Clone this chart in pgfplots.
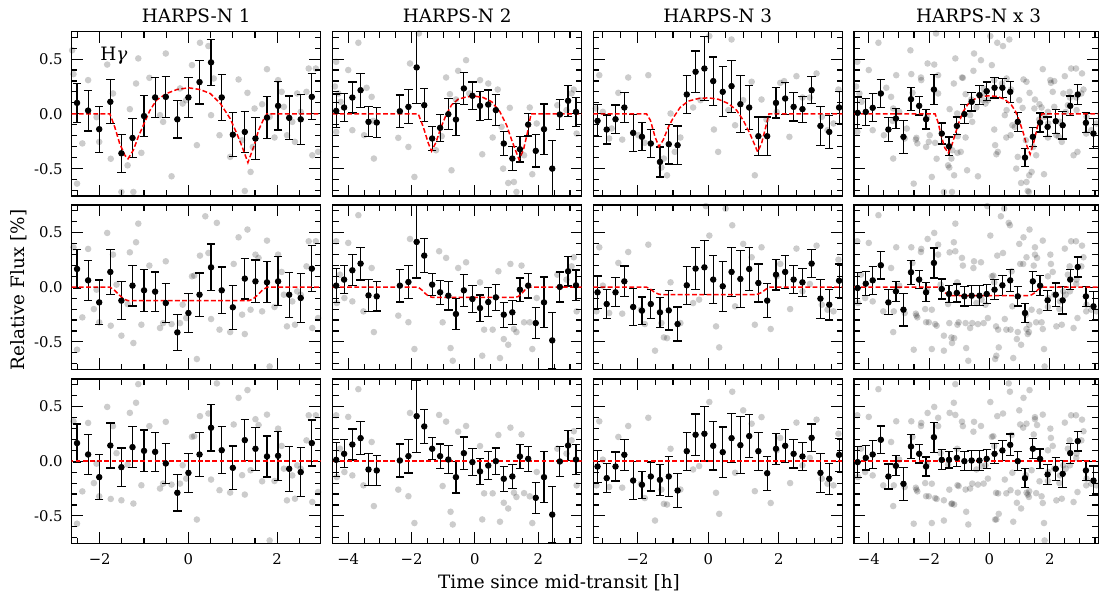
\documentclass[border=0pt]{standalone}
\usepackage{fontspec}
\setmainfont{DejaVu Serif}
\usepackage{pgfplots}
\usepackage{pgfplotstable}
\pgfplotsset{compat=1.18}

% ---------- binned points: t, row1 y/err, row2 y/err, row3 y (err as row2)
\pgfplotstableread{
t y1 e1 y2 e2 y3
-2.51 0.10 0.18 0.166 0.175 0.165
-2.26 0.03 0.186 0.062 0.185 0.061
-2.01 -0.14 0.21 -0.139 0.205 -0.146
-1.76 0.11 0.20 0.139 0.205 0.143
-1.51 -0.36 0.175 -0.123 0.175 -0.055
-1.26 -0.22 0.18 0.014 0.186 0.128
-1.00 -0.02 0.19 -0.029 0.19 0.094
-0.75 0.15 0.18 -0.041 0.18 0.085
-0.51 0.155 0.185 -0.145 0.18 -0.021
-0.25 -0.05 0.17 -0.413 0.166 -0.289
0.00 0.15 0.18 -0.236 0.18 -0.107
0.25 0.29 0.20 -0.069 0.198 0.061
0.51 0.47 0.21 0.181 0.213 0.305
0.75 0.15 0.21 -0.029 0.213 0.10
1.00 -0.19 0.20 -0.184 0.20 -0.061
1.27 -0.165 0.19 0.078 0.187 0.192
1.51 -0.225 0.195 0.053 0.195 0.113
1.77 -0.035 0.19 0.044 0.187 0.043
2.02 0.073 0.22 0.053 0.224 0.049
2.27 -0.037 0.20 -0.069 0.206 -0.07
2.53 -0.05 0.23 -0.099 0.225 -0.10
2.78 0.155 0.21 0.169 0.21 0.165
}\bina
\pgfplotstableread{
t y1 e1 y2 e2 y3
-4.38 0.027 0.155 0.014 0.155 0.012
-4.13 0.058 0.126 0.069 0.128 0.067
-3.87 0.149 0.142 0.154 0.142 0.152
-3.61 0.216 0.155 0.215 0.15 0.21
-3.36 -0.073 0.137 -0.075 0.145 -0.076
-3.10 -0.079 0.137 -0.084 0.134 -0.085
-2.37 0.024 0.149 0.014 0.15 0.006
-2.10 0.064 0.155 0.047 0.154 0.046
-1.84 0.424 0.33 0.413 0.33 0.411
-1.60 0.079 0.152 0.288 0.155 0.317
-1.35 -0.225 0.107 0.023 0.10 0.113
-1.10 -0.128 0.122 -0.047 0.111 0.046
-0.84 -0.003 0.14 -0.078 0.13 0.015
-0.60 -0.052 0.145 -0.245 0.145 -0.146
-0.35 0.232 0.146 -0.029 0.148 0.073
-0.08 0.165 0.125 -0.108 0.122 -0.009
0.16 0.073 0.133 -0.191 0.119 -0.094
0.42 0.085 0.133 -0.136 0.13 -0.04
0.66 0.034 0.142 -0.093 0.12 0.0
0.91 -0.271 0.111 -0.251 0.114 -0.161
1.18 -0.408 0.111 -0.23 0.11 -0.14
1.42 -0.323 0.117 -0.023 0.107 0.043
1.68 -0.098 0.104 0.014 0.113 0.021
1.92 -0.338 0.148 -0.328 0.14 -0.335
2.18 -0.14 0.23 -0.139 0.232 -0.146
2.44 -0.50 0.26 -0.486 0.256 -0.488
2.68 -0.006 0.137 0.002 0.137 -0.003
2.94 0.119 0.142 0.145 0.134 0.143
3.19 0.018 0.134 0.017 0.139 0.015
}\binb
\pgfplotstableread{
t y1 e1 y2 e2 y3
-3.14 -0.064 0.146 -0.047 0.148 -0.049
-2.88 -0.143 0.133 -0.154 0.133 -0.155
-2.63 -0.049 0.13 -0.047 0.133 -0.049
-2.38 0.058 0.137 0.053 0.14 0.058
-2.13 -0.174 0.168 -0.181 0.171 -0.177
-1.88 -0.21 0.128 -0.215 0.125 -0.216
-1.63 -0.271 0.13 -0.154 0.133 -0.14
-1.37 -0.439 0.137 -0.23 0.139 -0.171
-1.12 -0.277 0.18 -0.212 0.18 -0.14
-0.87 -0.286 0.175 -0.337 0.155 -0.268
-0.61 0.177 0.172 0.017 0.174 0.091
-0.36 0.384 0.19 0.169 0.19 0.241
-0.11 0.414 0.294 0.181 0.248 0.25
0.14 0.299 0.22 0.069 0.22 0.14
0.41 0.201 0.228 0.008 0.229 0.082
0.66 0.253 0.237 0.139 0.225 0.21
0.91 0.088 0.26 0.075 0.259 0.146
1.16 0.058 0.198 0.166 0.195 0.229
1.42 -0.204 0.175 0.038 0.174 0.091
1.67 -0.204 0.175 -0.123 0.155 -0.11
1.92 0.10 0.137 0.114 0.14 0.113
2.18 0.14 0.146 0.139 0.149 0.14
2.42 0.064 0.13 0.069 0.13 0.067
2.67 0.043 0.119 0.044 0.128 0.043
2.93 0.216 0.122 0.215 0.126 0.213
3.18 -0.11 0.178 -0.105 0.178 -0.107
3.43 -0.165 0.148 -0.16 0.14 -0.161
3.71 0.058 0.148 0.059 0.152 0.058
}\binc
\pgfplotstableread{
t y1 e1 y2 e2 y3
-4.37 0.009 0.145 -0.008 0.14 -0.009
-4.10 0.018 0.125 0.032 0.111 0.03
-3.87 0.055 0.128 0.062 0.13 0.061
-3.60 0.186 0.131 0.2 0.126 0.195
-3.35 -0.143 0.111 -0.139 0.114 -0.14
-3.10 -0.043 0.094 -0.038 0.091 -0.043
-2.85 -0.21 0.152 -0.206 0.149 -0.207
-2.60 0.134 0.107 0.136 0.11 0.134
-2.33 0.073 0.084 0.069 0.084 0.067
-2.10 -0.049 0.09 -0.047 0.087 -0.049
-1.84 0.222 0.137 0.221 0.137 0.219
-1.58 -0.18 0.096 -0.017 0.091 0.012
-1.34 -0.296 0.084 -0.062 0.075 0.012
-1.08 -0.11 0.081 -0.053 0.082 0.03
-0.83 -0.003 0.088 -0.084 0.088 0.0
-0.59 0.11 0.084 -0.078 0.09 0.006
-0.33 0.171 0.085 -0.078 0.09 0.006
-0.09 0.207 0.084 -0.062 0.087 0.021
0.17 0.238 0.093 -0.023 0.091 0.067
0.43 0.238 0.087 0.017 0.091 0.098
0.69 0.201 0.096 0.062 0.099 0.149
0.94 -0.073 0.088 -0.084 0.088 0.0
1.18 -0.399 0.085 -0.236 0.087 -0.155
1.44 -0.21 0.088 0.053 0.091 0.113
1.68 -0.079 0.087 0.014 0.09 0.021
1.93 -0.119 0.091 -0.12 0.093 -0.122
2.20 -0.067 0.11 -0.069 0.107 -0.07
2.43 -0.104 0.125 -0.12 0.125 -0.116
2.68 0.073 0.09 0.069 0.091 0.073
2.93 0.177 0.091 0.184 0.091 0.183
3.20 -0.082 0.091 -0.084 0.091 -0.085
3.45 -0.18 0.137 -0.175 0.133 -0.177
}\bind

% ---------- models
\pgfplotstableread{
t y
-2.63 0
-1.77 0
-1.66 -0.12
-1.55 -0.27
-1.43 -0.38
-1.36 -0.41
-1.24 -0.33
-1.13 -0.21
-1.00 -0.09
-0.87 0.03
-0.72 0.125
-0.49 0.186
-0.26 0.222
0 0.238
0.26 0.222
0.49 0.186
0.72 0.094
0.94 -0.043
1.09 -0.18
1.21 -0.30
1.34 -0.445
1.47 -0.30
1.58 -0.15
1.70 -0.043
1.77 0
2.98 0
}\moda
\pgfplotstableread{
t y
-4.49 0
-1.79 0
-1.63 -0.12
-1.47 -0.27
-1.37 -0.34
-1.23 -0.26
-1.08 -0.13
-0.91 -0.01
-0.74 0.08
-0.53 0.134
-0.26 0.155
0 0.161
0.26 0.149
0.53 0.11
0.79 0.018
1.0 -0.104
1.16 -0.24
1.32 -0.363
1.39 -0.417
1.53 -0.33
1.65 -0.18
1.77 0
3.37 0
}\modb
\pgfplotstableread{
t y
-3.26 0
-1.75 0
-1.64 -0.06
-1.51 -0.21
-1.40 -0.30
-1.28 -0.24
-1.13 -0.12
-0.99 -0.034
-0.80 0.058
-0.57 0.116
-0.28 0.14
0 0.146
0.28 0.134
0.57 0.094
0.80 0.034
0.99 -0.058
1.18 -0.18
1.40 -0.347
1.51 -0.271
1.63 -0.119
1.72 0
3.80 0
}\modc
\pgfplotstableread{
t y
-4.49 0
-1.80 0
-1.70 -0.08
-1.60 -0.20
-1.48 -0.31
-1.36 -0.356
-1.24 -0.28
-1.13 -0.18
-1.00 -0.07
-0.87 0.02
-0.72 0.085
-0.49 0.135
-0.26 0.158
0 0.165
0.26 0.158
0.49 0.135
0.72 0.085
0.87 0.02
1.00 -0.07
1.13 -0.18
1.24 -0.29
1.35 -0.369
1.47 -0.26
1.60 -0.11
1.74 0
3.61 0
}\modd
\pgfplotstableread{
t y
-2.63 0
-1.77 0
-1.66 -0.03
-1.55 -0.075
-1.45 -0.11
-1.36 -0.123
1.36 -0.123
1.45 -0.11
1.55 -0.075
1.66 -0.03
1.77 0
2.98 0
}\modaa
\pgfplotstableread{
t y
-4.49 0
-1.79 0
-1.68 -0.025
-1.56 -0.06
-1.45 -0.085
-1.33 -0.094
1.26 -0.094
1.37 -0.085
1.47 -0.06
1.58 -0.025
1.68 0
3.37 0
}\modbb
\pgfplotstableread{
t y
-3.26 0
-1.75 0
-1.64 -0.018
-1.53 -0.045
-1.42 -0.062
-1.32 -0.069
1.32 -0.069
1.42 -0.062
1.53 -0.045
1.64 -0.018
1.75 0
3.80 0
}\modcc
\pgfplotstableread{
t y
-4.49 0
-1.64 0
-1.55 -0.02
-1.47 -0.05
-1.38 -0.07
-1.30 -0.078
1.29 -0.078
1.40 -0.07
1.51 -0.05
1.62 -0.02
1.74 0
3.61 0
}\moddd
\pgfplotstableread{
t y
-4.49 0
3.80 0
}\zero

% ---------- individual spectra (grey)
\pgfplotstableread{
t y
-2.62 0.58
-2.59 0.363
-2.51 -0.637
-2.39 -0.27
-2.26 0.308
-2.07 -0.03
-2.01 -0.256
-1.83 0.45
-1.75 -0.41
-1.70 0.186
-1.51 -0.713
-1.37 -0.47
-1.32 0.043
-1.24 -0.713
-1.18 0.277
-1.13 0.506
-1.06 -0.356
-0.88 0.329
-0.64 -0.012
-0.57 -0.073
-0.51 0.551
-0.38 -0.57
-0.19 0.232
-0.13 0.094
-0.05 0.125
0.08 0.445
0.19 -0.286
0.26 0.649
0.45 0.619
0.51 -0.012
0.57 0.323
0.70 -0.195
0.94 -0.393
1.13 0.314
1.21 -0.241
1.27 -0.704
1.33 0.192
1.40 -0.53
1.45 -0.302
1.49 0.049
1.66 0.088
1.77 0.408
1.83 -0.027
1.94 -0.216
2.02 0.308
2.10 0.201
2.15 0.064
2.22 -0.195
2.34 -0.073
2.40 -0.256
2.45 0.186
2.53 0.018
2.66 0.201
2.71 0.414
2.79 -0.378
2.87 0.414
2.92 -0.347
}\gaa
\pgfplotstableread{
t y
-2.59 0.364
-2.51 -0.571
-2.39 -0.276
-2.26 0.349
-2.13 -0.20
-2.07 -0.023
-2.01 -0.321
-1.83 0.495
-1.75 -0.352
-1.70 0.297
-1.62 0.023
-1.51 -0.443
-1.37 -0.154
-1.32 0.318
-1.24 -0.51
-1.18 0.41
-1.13 0.58
-1.06 -0.343
-0.88 0.197
-0.64 -0.373
-0.57 -0.328
-0.51 0.236
-0.38 -0.337
-0.19 -0.328
-0.13 -0.16
-0.05 -0.282
0.08 0.099
0.13 0.105
0.19 -0.656
0.26 0.288
0.38 0.647
0.45 0.312
0.51 -0.291
0.64 0.587
0.70 -0.388
0.94 -0.41
1.02 0.212
1.13 0.455
1.21 -0.251
1.27 -0.428
1.33 0.526
1.40 -0.206
1.51 0.297
1.58 0.267
1.66 -0.221
1.77 0.425
1.83 -0.724
1.94 -0.181
2.02 0.297
2.10 0.139
2.15 -0.069
2.22 -0.358
2.34 -0.13
2.40 -0.343
2.45 -0.038
2.53 -0.069
2.66 0.19
2.71 0.419
2.79 -0.373
2.87 0.419
2.92 -0.282
}\gab
\pgfplotstableread{
t y
-2.59 0.364
-2.51 -0.571
-2.39 -0.276
-2.26 0.349
-2.13 -0.20
-2.07 -0.023
-2.01 -0.321
-1.83 0.495
-1.75 -0.345
-1.70 0.32
-1.62 0.073
-1.51 -0.357
-1.37 -0.031
-1.32 0.441
-1.24 -0.387
-1.18 0.533
-1.13 0.703
-1.06 -0.22
-0.88 0.32
-0.64 -0.25
-0.57 -0.205
-0.51 0.359
-0.38 -0.214
-0.19 -0.205
-0.13 -0.037
-0.05 -0.159
0.08 0.222
0.13 0.228
0.19 -0.533
0.26 0.411
0.38 0.77
0.45 0.435
0.51 -0.168
0.64 0.71
0.70 -0.265
0.94 -0.287
1.02 0.335
1.13 0.578
1.21 -0.128
1.27 -0.305
1.33 0.649
1.40 -0.083
1.51 0.383
1.58 0.33
1.66 -0.184
1.77 0.425
1.83 -0.724
1.94 -0.181
2.02 0.297
2.10 0.139
2.15 -0.069
2.22 -0.358
2.34 -0.13
2.40 -0.343
2.45 -0.038
2.53 -0.069
2.66 0.19
2.71 0.419
2.79 -0.373
2.87 0.419
2.92 -0.282
}\gac
\pgfplotstableread{
t y
-4.42 0.25
-4.38 0.475
-4.31 0.186
-4.24 0.11
-4.38 -0.165
-4.00 0.40
-3.87 -0.149
-3.68 0.649
-3.50 -0.195
-3.42 0.238
-3.26 0.155
-3.21 -0.064
-3.19 -0.408
-2.42 -0.219
-2.10 -0.302
-2.05 0.46
-1.91 -0.576
-1.77 0.734
-1.23 -0.332
-1.05 -0.204
-0.91 0.332
-0.79 0.18
-0.74 -0.515
-0.60 0.131
-0.53 0.393
-0.28 0.49
-0.18 0.186
0.16 0.308
0.23 -0.369
0.42 0.277
0.56 -0.216
0.72 0.222
0.84 -0.119
0.89 -0.50
1.05 -0.631
1.10 0.055
1.23 -0.622
1.31 -0.713
1.55 -0.378
1.73 0.058
1.81 -0.551
1.95 -0.088
2.60 0.079
2.89 0.034
3.05 0.186
3.12 0.222
3.21 -0.18
}\gba
\pgfplotstableread{
t y
-4.38 0.419
-4.36 -0.145
-4.26 0.114
-4.12 -0.099
-4.00 0.404
-3.87 -0.13
-3.68 0.657
-3.52 -0.221
-3.26 0.175
-3.19 -0.41
-2.42 -0.26
-2.10 -0.32
-2.05 0.44
-1.91 -0.565
-1.13 0.328
-1.02 -0.321
-0.91 0.267
-0.77 -0.556
-0.70 -0.672
-0.53 0.175
-0.28 0.227
0.16 0.044
0.23 -0.626
0.29 -0.388
0.56 -0.388
0.74 0.145
0.79 -0.647
0.91 -0.474
1.05 -0.526
1.12 0.212
1.23 -0.382
1.31 -0.41
1.47 0.197
1.55 -0.321
1.73 -0.321
1.81 -0.565
1.95 -0.099
2.60 0.114
2.89 0.069
3.05 0.19
3.12 0.273
3.21 -0.221
}\gbb
\pgfplotstableread{
t y
-4.38 0.419
-4.36 -0.145
-4.26 0.114
-4.12 -0.099
-4.00 0.404
-3.87 -0.13
-3.68 0.657
-3.52 -0.221
-3.26 0.175
-3.19 -0.41
-2.42 -0.26
-2.10 -0.32
-2.05 0.44
-1.91 -0.565
-1.13 0.422
-1.02 -0.227
-0.91 0.361
-0.77 -0.462
-0.70 -0.578
-0.53 0.269
-0.28 0.321
0.16 0.138
0.23 -0.532
0.29 -0.294
0.56 -0.294
0.74 0.239
0.79 -0.553
0.91 -0.38
1.05 -0.432
1.12 0.306
1.23 -0.288
1.31 -0.327
1.47 0.244
1.55 -0.292
1.73 -0.321
1.81 -0.565
1.95 -0.099
2.60 0.114
2.89 0.069
3.05 0.19
3.12 0.273
3.21 -0.221
}\gbc
\pgfplotstableread{
t y
-3.19 0.049
-3.09 0.353
-2.99 0.018
-2.81 -0.225
-2.74 -0.134
-2.55 0.192
-2.44 -0.235
-2.27 0.332
-1.98 -0.195
-1.80 -0.265
-1.70 0.353
-1.33 -0.49
-1.26 -0.408
-1.17 -0.561
-1.07 0.003
-0.95 -0.347
-0.79 -0.216
-0.43 0.058
-0.22 0.125
0.03 0.71
0.16 -0.143
0.28 -0.347
0.57 0.034
0.66 0.679
0.76 -0.104
0.99 0.125
1.23 0.293
1.32 -0.561
1.51 0.131
1.65 -0.052
1.94 0.018
2.04 0.283
2.15 0.299
2.30 -0.21
2.50 0.344
2.67 0.149
2.88 0.149
3.07 0.369
3.22 -0.027
3.38 -0.149
3.55 -0.088
3.69 0.222
}\gca
\pgfplotstableread{
t y
-3.17 -0.221
-3.09 0.364
-2.99 0.014
-2.81 -0.236
-2.55 0.221
-2.44 -0.242
-2.27 0.321
-1.91 -0.206
-1.80 -0.337
-1.70 0.388
-1.51 -0.58
-1.33 -0.328
-1.26 -0.459
-1.17 -0.465
-1.07 0.044
-0.79 -0.328
-0.43 -0.145
-0.26 -0.114
-0.07 0.74
0.03 0.471
0.22 -0.358
0.31 -0.55
0.49 0.717
0.68 0.565
0.76 -0.175
0.99 0.395
1.23 0.273
1.32 -0.343
1.51 0.364
1.77 -0.382
1.94 0.099
2.04 0.212
2.32 -0.2
2.50 0.352
2.67 -0.038
2.88 0.029
3.07 0.379
3.22 -0.16
3.38 -0.206
3.55 -0.221
3.69 0.251
}\gcb
\pgfplotstableread{
t y
-3.17 -0.221
-3.09 0.364
-2.99 0.014
-2.81 -0.236
-2.55 0.221
-2.44 -0.242
-2.27 0.321
-1.91 -0.206
-1.80 -0.337
-1.70 0.396
-1.51 -0.542
-1.33 -0.26
-1.26 -0.39
-1.17 -0.396
-1.07 0.113
-0.79 -0.259
-0.43 -0.076
-0.26 -0.045
0.03 0.54
0.22 -0.289
0.31 -0.481
0.68 0.634
0.76 -0.106
0.99 0.464
1.23 0.342
1.32 -0.274
1.51 0.402
1.77 -0.382
1.94 0.099
2.04 0.212
2.32 -0.2
2.50 0.352
2.67 -0.038
2.88 0.029
3.07 0.379
3.22 -0.16
3.38 -0.206
3.55 -0.221
3.69 0.251
}\gcc

\pgfplotsset{
  panel/.style={
    scale only axis, height=82.15pt, anchor=north west,
    ymin=-0.75, ymax=0.75, ytick={-0.5,0,0.5},
    minor ytick={-0.7,-0.6,-0.4,-0.3,-0.2,-0.1,0.1,0.2,0.3,0.4,0.6,0.7},
    tick align=inside, tick pos=both,
    major tick length=5.6pt, minor tick length=2.9pt,
    every tick/.style={black, line width=0.55pt},
    axis line style={line width=0.6pt},
    tick label style={font=\fontsize{7.4}{8}\selectfont},
    xticklabel style={yshift=-1.5pt},
    yticklabel style={xshift=-1pt},
    yticklabels={}, xticklabels={}, clip=true,
  },
  cA/.style={width=124.5pt, xmin=-2.63, xmax=2.98, xtick={-2,0,2},
    minor xtick={-2.5,-1.5,-1,-0.5,0.5,1,1.5,2.5}},
  cB/.style={width=124.5pt, xmin=-4.49, xmax=3.37, xtick={-4,-2,0,2},
    minor xtick={-3.5,-3,-2.5,-1.5,-1,-0.5,0.5,1,1.5,2.5,3}},
  cC/.style={width=124.5pt, xmin=-3.26, xmax=3.80, xtick={-2,0,2},
    minor xtick={-3,-2.5,-1.5,-1,-0.5,0.5,1,1.5,2.5,3,3.5}},
  cD/.style={width=122.15pt, xmin=-4.49, xmax=3.61, xtick={-4,-2,0,2},
    minor xtick={-3.5,-3,-2.5,-1.5,-1,-0.5,0.5,1,1.5,2.5,3,3.5}},
  grey/.style={only marks, mark=*, mark size=1.65pt, color=black,
    mark options={draw opacity=0, fill=black, fill opacity=0.2}},
  binned/.style={only marks, mark=*, mark size=1.4pt, black,
    error bars/.cd, y dir=both, y explicit,
    error bar style={line width=0.6pt, black},
    error mark options={rotate=90, mark size=2.1pt, line width=0.6pt, black}},
  model/.style={draw=red, color=red, line width=0.75pt, dash pattern=on 2.4pt off 1.2pt, mark=none},
}

\begin{document}
\begin{tikzpicture}
\path[use as bounding box] (0,0) rectangle (549.5pt,-297.5pt);

% ================= row 1
\begin{axis}[panel, cA, at={(35.85pt,-15.85pt)}, yticklabels={-0.5,0.0,0.5}]
\addplot[grey] table[x=t,y=y] {\gaa};
\addplot[binned] table[x=t,y=y1,y error=e1] {\bina};
\addplot[model] table[x=t,y=y] {\moda};
\end{axis}
\begin{axis}[panel, cB, at={(166.35pt,-15.85pt)}]
\addplot[grey] table[x=t,y=y] {\gba};
\addplot[binned] table[x=t,y=y1,y error=e1] {\binb};
\addplot[model] table[x=t,y=y] {\modb};
\end{axis}
\begin{axis}[panel, cC, at={(296.65pt,-15.85pt)}]
\addplot[grey] table[x=t,y=y] {\gca};
\addplot[binned] table[x=t,y=y1,y error=e1] {\binc};
\addplot[model] table[x=t,y=y] {\modc};
\end{axis}
\begin{axis}[panel, cD, at={(427pt,-15.85pt)}]
\addplot[grey] table[x=t,y=y] {\gaa};
\addplot[grey] table[x=t,y=y] {\gba};
\addplot[grey] table[x=t,y=y] {\gca};
\addplot[binned] table[x=t,y=y1,y error=e1] {\bind};
\addplot[model] table[x=t,y=y] {\modd};
\end{axis}

% ================= row 2
\begin{axis}[panel, cA, at={(35.85pt,-102.5pt)}, yticklabels={-0.5,0.0,0.5}]
\addplot[grey] table[x=t,y=y] {\gab};
\addplot[binned] table[x=t,y=y2,y error=e2] {\bina};
\addplot[model] table[x=t,y=y] {\modaa};
\end{axis}
\begin{axis}[panel, cB, at={(166.35pt,-102.5pt)}]
\addplot[grey] table[x=t,y=y] {\gbb};
\addplot[binned] table[x=t,y=y2,y error=e2] {\binb};
\addplot[model] table[x=t,y=y] {\modbb};
\end{axis}
\begin{axis}[panel, cC, at={(296.65pt,-102.5pt)}]
\addplot[grey] table[x=t,y=y] {\gcb};
\addplot[binned] table[x=t,y=y2,y error=e2] {\binc};
\addplot[model] table[x=t,y=y] {\modcc};
\end{axis}
\begin{axis}[panel, cD, at={(427pt,-102.5pt)}]
\addplot[grey] table[x=t,y=y] {\gab};
\addplot[grey] table[x=t,y=y] {\gbb};
\addplot[grey] table[x=t,y=y] {\gcb};
\addplot[binned] table[x=t,y=y2,y error=e2] {\bind};
\addplot[model] table[x=t,y=y] {\moddd};
\end{axis}

% ================= row 3
\begin{axis}[panel, cA, at={(35.85pt,-189.5pt)}, yticklabels={-0.5,0.0,0.5}, xticklabels={−2,0,2}]
\addplot[grey] table[x=t,y=y] {\gac};
\addplot[binned] table[x=t,y=y3,y error=e2] {\bina};
\addplot[model] table[x=t,y=y] {\zero};
\end{axis}
\begin{axis}[panel, cB, at={(166.35pt,-189.5pt)}, xticklabels={−4,−2,0,2}]
\addplot[grey] table[x=t,y=y] {\gbc};
\addplot[binned] table[x=t,y=y3,y error=e2] {\binb};
\addplot[model] table[x=t,y=y] {\zero};
\end{axis}
\begin{axis}[panel, cC, at={(296.65pt,-189.5pt)}, xticklabels={−2,0,2}]
\addplot[grey] table[x=t,y=y] {\gcc};
\addplot[binned] table[x=t,y=y3,y error=e2] {\binc};
\addplot[model] table[x=t,y=y] {\zero};
\end{axis}
\begin{axis}[panel, cD, at={(427pt,-189.5pt)}, xticklabels={−4,−2,0,2}]
\addplot[grey] table[x=t,y=y] {\gac};
\addplot[grey] table[x=t,y=y] {\gbc};
\addplot[grey] table[x=t,y=y] {\gcc};
\addplot[binned] table[x=t,y=y3,y error=e2] {\bind};
\addplot[model] table[x=t,y=y] {\zero};
\end{axis}

% ================= titles and labels
\begin{scope}[every node/.style={font=\fontsize{9.2}{11}\selectfont, inner sep=0pt}]
\node[anchor=base] at (98.1pt,-11.35pt) {HARPS-N 1};
\node[anchor=base] at (228.6pt,-11.35pt) {HARPS-N 2};
\node[anchor=base] at (358.9pt,-11.35pt) {HARPS-N 3};
\node[anchor=base] at (489.25pt,-11.35pt) {HARPS-N x 3};
\node[anchor=base west] at (50pt,-30pt) {H{\itshape γ}};
\node[anchor=base] at (279.5pt,-294.3pt) {Time since mid-transit [h]};
\node[rotate=90, anchor=center] at (9.6pt,-145pt) {Relative Flux [\%]};
\end{scope}
\end{tikzpicture}
\end{document}
